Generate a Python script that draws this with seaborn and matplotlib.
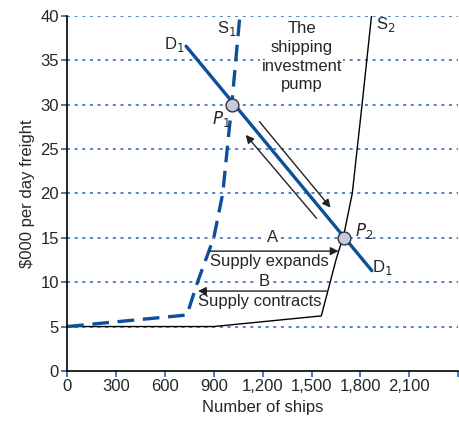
import matplotlib
matplotlib.use("Agg")
import matplotlib.pyplot as plt
import seaborn as sns
import pandas as pd

# Data
s1_x = [0, 735, 800, 900, 955, 1010, 1060]
s1_y = [5, 6.3, 10, 15, 20, 30, 40]
s2_x = [0, 900, 1560, 1650, 1700, 1750, 1810, 1868]
s2_y = [5, 5, 6.2, 12.5, 15.5, 20, 30, 40]
d1_x = [730, 1870]
d1_y = [36.6, 11.3]
pts_x = [1010, 1700]
pts_y = [30, 15]
x_ticks = [0, 300, 600, 900, 1200, 1500, 1800, 2100, 2400]
x_tick_labels = ["0", "300", "600", "900", "1,200", "1,500", "1,800", "2,100", ""]
y_ticks = [0, 5, 10, 15, 20, 25, 30, 35, 40]

BLUE = "#0d4f9a"
GRID = "#2a64b0"

sns.set_style("white")
plt.rcParams["font.family"] = ["Liberation Sans", "DejaVu Sans"]

fig = plt.figure(figsize=(4.6, 4.21), dpi=100)
ax = fig.add_axes([0.146, 0.119, 0.85, 0.843])

for yv in y_ticks[1:]:
    ax.axhline(yv, color=GRID, lw=1.1, ls=(0, (2, 3)), zorder=0)

s1 = pd.DataFrame({"x": s1_x, "y": s1_y})
s2 = pd.DataFrame({"x": s2_x, "y": s2_y})
d1 = pd.DataFrame({"x": d1_x, "y": d1_y})
sns.lineplot(data=s2, x="x", y="y", ax=ax, color="black", lw=1.0, sort=False, estimator=None)
sns.lineplot(data=s1, x="x", y="y", ax=ax, color=BLUE, lw=2.4, sort=False, estimator=None,
             dashes=False, linestyle=(0, (5, 2.6)))
sns.lineplot(data=d1, x="x", y="y", ax=ax, color=BLUE, lw=2.4, sort=False, estimator=None)
sns.scatterplot(x=pts_x, y=pts_y, ax=ax, s=85, color="#c5c9e0", edgecolor="#333333",
                linewidth=1.0, zorder=5)

arrow_kw = dict(arrowstyle="-|>", color="#222222", lw=1.0, mutation_scale=12, shrinkA=0, shrinkB=0)
ax.annotate("", xy=(1617, 18.4), xytext=(1180, 28.1), arrowprops=arrow_kw)
ax.annotate("", xy=(1096, 26.6), xytext=(1531, 17.2), arrowprops=arrow_kw)
ax.annotate("", xy=(1666, 13.5), xytext=(876, 13.5), arrowprops=arrow_kw)
ax.annotate("", xy=(803, 9.0), xytext=(1592, 9.0), arrowprops=arrow_kw)

fs = 12
wbox = dict(facecolor="white", edgecolor="none", pad=1)
ax.text(1262, 15.0, "A", ha="center", va="center", fontsize=fs, bbox=wbox)
ax.text(1243, 12.3, "Supply expands", ha="center", va="center", fontsize=fs)
ax.text(1212, 10.1, "B", ha="center", va="center", fontsize=fs, bbox=wbox)
ax.text(1182, 7.8, "Supply contracts", ha="center", va="center", fontsize=fs)
ax.text(1440, 35.4, "The\nshipping\ninvestment\npump", ha="center", va="center",
        fontsize=fs, linespacing=1.3, bbox=wbox)
ax.text(660, 36.8, "D$_1$", ha="center", va="center", fontsize=fs)
ax.text(1935, 11.6, "D$_1$", ha="center", va="center", fontsize=fs)
ax.text(980, 38.6, "S$_1$", ha="center", va="center", fontsize=fs)
ax.text(1955, 39.0, "S$_2$", ha="center", va="center", fontsize=fs)
ax.text(945, 28.4, "$P_1$", ha="center", va="center", fontsize=fs)
ax.text(1820, 15.8, "$P_2$", ha="center", va="center", fontsize=fs)

ax.set_xlim(0, 2400)
ax.set_ylim(0, 40)
ax.set_xticks(x_ticks)
ax.set_xticklabels(x_tick_labels)
ax.set_yticks(y_ticks)
ax.tick_params(axis="both", length=4, width=1.2, color=GRID, labelsize=12, direction="out",
               bottom=True, left=True, pad=2)
for sp in ["top", "right"]:
    ax.spines[sp].set_visible(False)
for sp in ["left", "bottom"]:
    ax.spines[sp].set_color("black")
    ax.spines[sp].set_linewidth(1.2)
ax.set_xlabel("Number of ships", fontsize=12, labelpad=4)
ax.set_ylabel("\\$000 per day freight", fontsize=12, labelpad=4)

fig.savefig("out.png", dpi=100)
